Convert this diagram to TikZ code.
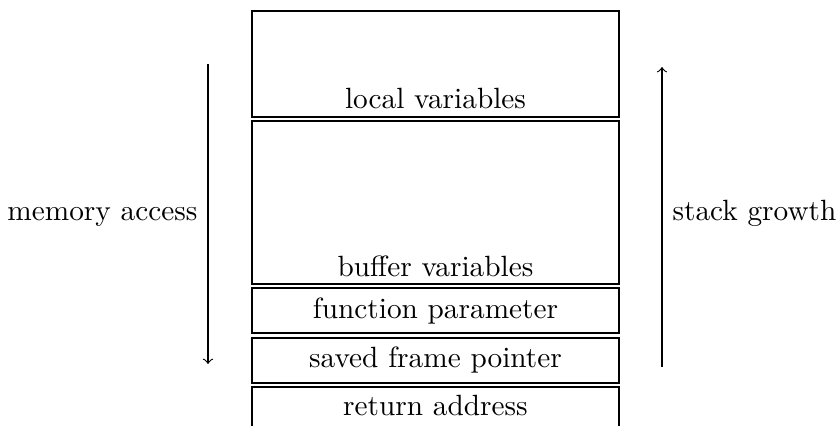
\documentclass[tikz,border=0pt]{standalone}
\begin{document}
\begin{tikzpicture}[x=0.3413pt,y=-0.3413pt,
  frame/.style={draw,line width=0.4pt},
  lbl/.style={inner sep=0pt,anchor=base},
  arr/.style={->,line width=0.4pt}]
\useasboundingbox (0,0) rectangle (837,426);
\clip (0,0) rectangle (837,426);
\draw[frame] (252,11) rectangle (619,117);
\draw[frame] (252,121) rectangle (619,284);
\draw[frame] (252,288) rectangle (619,333);
\draw[frame] (252,338) rectangle (619,383);
\draw[frame] (252,387) rectangle (619,440);
\node[lbl] (lv) at (435.5,108) {local variables};
\node[lbl] (bv) at (435.5,276) {buffer variables};
\node[lbl] (fp) at (435.5,318) {function parameter};
\node[lbl] (sf) at (435.5,367) {saved frame pointer};
\node[lbl] (ra) at (435.5,415) {return address};
\coordinate (ma1) at (208,64);
\coordinate (ma2) at (208,364);
\draw[arr] (ma1) -- (ma2);
\node[lbl,anchor=base east] (mal) at (198,220) {memory access};
\coordinate (sg1) at (662,367);
\coordinate (sg2) at (662,67);
\draw[arr] (sg1) -- (sg2);
\node[lbl,anchor=base west] (sgl) at (672,220) {stack growth};
\end{tikzpicture}
\end{document}
